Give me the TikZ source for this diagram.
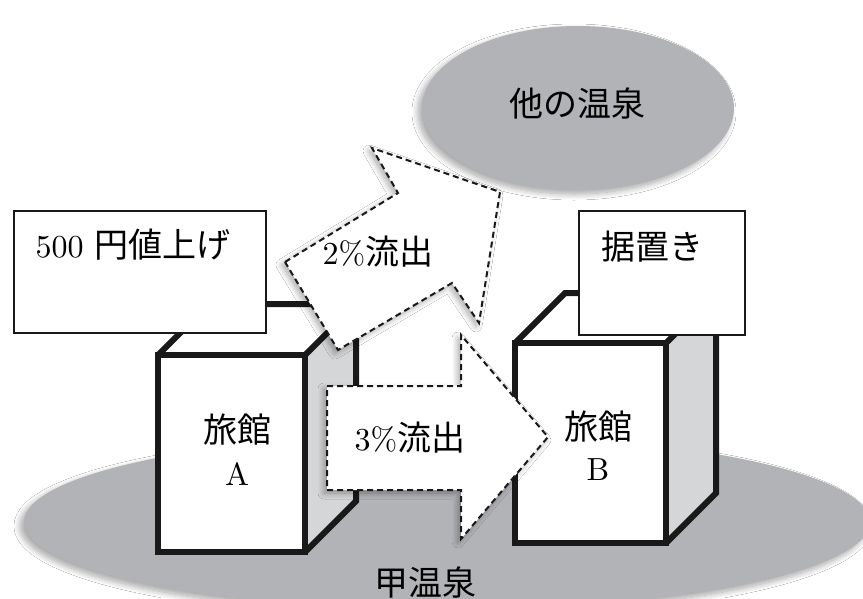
\documentclass[tikz,border=0pt]{standalone}
\usepackage{fontspec}
\setmainfont{lmroman10-regular.otf}
\newfontfamily\cjk{Noto Sans CJK JP}
\newcommand{\jp}[1]{{\fontsize{34}{38}\selectfont\cjk #1}}
\usetikzlibrary{shapes.geometric,shadows.blur}
\definecolor{pondgray}{HTML}{B2B3B7}
\definecolor{sidegray}{HTML}{D5D6D8}
\begin{document}
\begin{tikzpicture}[x=1pt,y=-1pt,line join=miter,
  lbl/.style={font=\fontsize{32}{38}\selectfont,inner sep=0pt},
  pond/.style={ellipse,fill=pondgray,draw=none,inner sep=0pt,
    blur shadow={shadow xshift=-4pt,shadow yshift=-4pt,shadow blur steps=10,shadow blur radius=6pt,shadow opacity=35}},
  cubeline/.style={line width=6pt,draw=black!90},
  infobox/.style={rectangle,draw=black!90,line width=2pt,fill=white,inner sep=0pt,outer sep=0pt},
  flow/.style={draw=black!90,line width=2pt,dash pattern=on 6pt off 4pt,fill=white,
    blur shadow={shadow xshift=-3pt,shadow yshift=-3pt,shadow blur steps=10,shadow blur radius=6pt,shadow opacity=35}}]
\useasboundingbox (0,0) rectangle (863,598);
\fill[white] (0,0) rectangle (863,598);
% ponds
\node[pond,minimum width=846pt,minimum height=176pt] (kou) at (447,522) {};
\node[lbl] (kouL) at (425,582) {\jp{甲温泉}};
\node[pond,minimum width=312pt,minimum height=164pt] (hoka) at (578,108) {};
\node[lbl] (hokaL) at (577,103) {\jp{他の温泉}};
% cube A
\coordinate (aFTL) at (158,355);
\coordinate (aFTR) at (305,355);
\coordinate (aFBR) at (305,552);
\coordinate (aFBL) at (158,552);
\coordinate (aBTL) at (209,304);
\coordinate (aBTR) at (356,304);
\coordinate (aBBR) at (356,501);
\fill[sidegray] (aFTR) -- (aBTR) -- (aBBR) -- (aFBR) -- cycle;
\fill[white] (aFTL) -- (aBTL) -- (aBTR) -- (aFTR) -- cycle;
\fill[white] (aFTL) rectangle (aFBR);
\draw[cubeline] (aFTL) -- (aFTR) -- (aFBR) -- (aFBL) -- cycle;
\draw[cubeline] (aFTL) -- (aBTL) -- (aBTR) -- (aBBR) -- (aFBR);
\draw[cubeline] (aFTR) -- (aBTR);
\node[lbl] (ryokanA1) at (237,430) {\jp{旅館}};
\node[lbl] (ryokanA2) at (237,474) {A};
% box A
\node[infobox,minimum width=252pt,minimum height=122pt] (boxA) at (140,272) {};
\node[lbl] (boxAL) at (133,245) {500 \jp{円値上げ}};
% arrow 2%
\draw[flow] (285,262) -- (398,193) -- (372,148) -- (500,192) -- (479,323) -- (452,283) -- (338,350) -- cycle;
\node[lbl] (f2) at (378,252) {2\%\jp{流出}};
% cube B
\coordinate (bFTL) at (515,343);
\coordinate (bFTR) at (666,343);
\coordinate (bFBR) at (666,543);
\coordinate (bFBL) at (515,543);
\coordinate (bBTL) at (565,293);
\coordinate (bBTR) at (716,293);
\coordinate (bBBR) at (716,493);
\fill[sidegray] (bFTR) -- (bBTR) -- (bBBR) -- (bFBR) -- cycle;
\fill[white] (bFTL) -- (bBTL) -- (bBTR) -- (bFTR) -- cycle;
\fill[white] (bFTL) rectangle (bFBR);
\draw[cubeline] (bFTL) -- (bFTR) -- (bFBR) -- (bFBL) -- cycle;
\draw[cubeline] (bFTL) -- (bBTL) -- (bBTR) -- (bBBR) -- (bFBR);
\draw[cubeline] (bFTR) -- (bBTR);
\node[lbl] (ryokanB1) at (598,427) {\jp{旅館}};
\node[lbl] (ryokanB2) at (598,470) {B};
% box B
\node[infobox,minimum width=166pt,minimum height=124pt] (boxB) at (662,273) {};
\node[lbl] (boxBL) at (652,247) {\jp{据置き}};
% arrow 3%
\draw[flow] (327,386) -- (461,386) -- (461,335) -- (548,437) -- (461,539) -- (461,490) -- (327,490) -- cycle;
\node[lbl] (f3) at (410,438) {3\%\jp{流出}};
\end{tikzpicture}
\end{document}
